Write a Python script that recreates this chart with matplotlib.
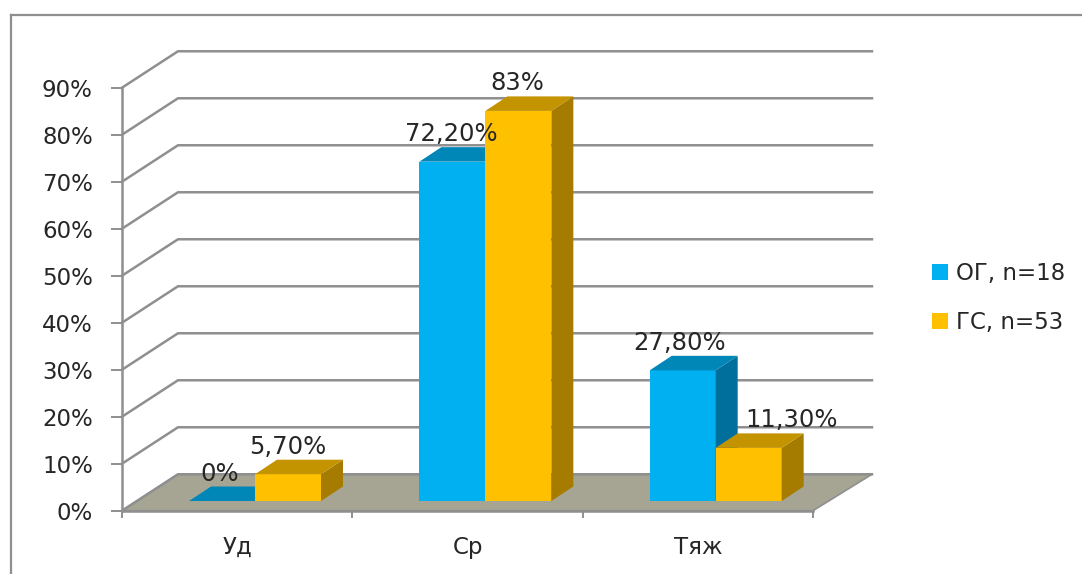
import matplotlib
matplotlib.use("Agg")
import matplotlib.pyplot as plt
from matplotlib.lines import Line2D
from matplotlib.patches import Patch, Polygon

W, H = 1082, 574

categories = ["Уд", "Ср", "Тяж"]
series_names = ["ОГ, n=18", "ГС, n=53"]
og_values = [0.0, 72.2, 27.8]
gs_values = [5.7, 83.0, 11.3]
og_labels = ["0%", "72,20%", "27,80%"]
gs_labels = ["5,70%", "83%", "11,30%"]
y_ticks = [0, 10, 20, 30, 40, 50, 60, 70, 80, 90]

GRID = "#8f8f8f"
TEXT = "#262626"
FLOOR = "#a6a594"
FACES = [
    {"front": "#00b0f0", "top": "#0087b8", "side": "#006f9c"},
    {"front": "#ffc000", "top": "#c49300", "side": "#a67c00"},
]

# Oblique projection, in data units (categories on x, percent on y)
WALL_DX_LEFT = 0.243
WALL_DX_RIGHT = 0.256
WALL_DY = 7.75
BAR_START = 0.291
BAR_W = 0.2865
BAR_BASE = 2.06
DEPTH_DX = 0.0955
DEPTH_DY = 3.09

FONT = 16.5
LABEL_FONT = 17.5

fig = plt.figure(figsize=(W / 100, H / 100), dpi=100, facecolor="white")
# Front plane of the chart: x 122..813 px, 0% at y=510.7 px, 90% at y=87.7 px
ax = fig.add_axes([122 / W, 1 - 510.7 / H, 691 / W, 423 / H])
ax.set_xlim(0, 3)
ax.set_ylim(0, 90)
ax.patch.set_visible(False)

# Outer frame, left and top only
for xs, ys in [((11, 11), (H, 15)), ((11, W), (15, 15))]:
    fig.add_artist(Line2D([x / W for x in xs], [1 - y / H for y in ys],
                          color=GRID, lw=1.6))

# Floor
floor = [(0, 0), (3, 0), (3 + WALL_DX_RIGHT, WALL_DY), (WALL_DX_LEFT, WALL_DY)]
ax.add_patch(Polygon(floor, closed=True, facecolor=FLOOR, edgecolor=GRID, lw=1.2,
                     zorder=1, clip_on=False))

# Gridlines run up the side wall and along the back wall
for t in y_ticks:
    ax.plot([0, WALL_DX_LEFT, 3 + WALL_DX_RIGHT], [t, t + WALL_DY, t + WALL_DY],
            color=GRID, lw=1.8, zorder=1, clip_on=False, solid_joinstyle="miter")


def draw_bars(values, labels, offset, faces, order, label_shift):
    for i, v in enumerate(values):
        x0 = i + BAR_START + offset
        x1 = x0 + BAR_W
        y0 = BAR_BASE
        y1 = BAR_BASE + v
        ax.bar(x0, v, width=BAR_W, bottom=y0, align="edge", color=faces["front"],
               zorder=order, clip_on=False)
        side = [(x1, y0), (x1 + DEPTH_DX, y0 + DEPTH_DY),
                (x1 + DEPTH_DX, y1 + DEPTH_DY), (x1, y1)]
        top = [(x0, y1), (x1, y1), (x1 + DEPTH_DX, y1 + DEPTH_DY),
               (x0 + DEPTH_DX, y1 + DEPTH_DY)]
        ax.add_patch(Polygon(side, closed=True, facecolor=faces["side"], lw=0,
                             zorder=order, clip_on=False))
        ax.add_patch(Polygon(top, closed=True, facecolor=faces["top"], lw=0,
                             zorder=order, clip_on=False))
        ax.annotate(labels[i], (x0 + BAR_W / 2, y1),
                    xytext=(label_shift[i] * 0.72, 27.5 * 0.72),
                    textcoords="offset points", ha="center", va="center",
                    fontsize=LABEL_FONT, color=TEXT, zorder=6, annotation_clip=False)


draw_bars(og_values, og_labels, 0, FACES[0], 3, [-2, -1, -3])
draw_bars(gs_values, gs_labels, BAR_W, FACES[1], 4, [0, -1, 43])

# Axes
for name in ("top", "right"):
    ax.spines[name].set_visible(False)
for name in ("left", "bottom"):
    ax.spines[name].set_color(GRID)
    ax.spines[name].set_linewidth(1.8)
    ax.spines[name].set_zorder(2)

ax.set_yticks(y_ticks)
ax.set_yticklabels([f"{t}%" for t in y_ticks])
ax.tick_params(axis="y", length=8, width=1.4, color=GRID, pad=13,
               labelsize=FONT, labelcolor=TEXT)
ax.set_xticks(range(len(categories) + 1))
ax.set_xticklabels([])
ax.set_xticks([i + 0.5 for i in range(len(categories))], minor=True)
ax.set_xticklabels(categories, minor=True)
ax.tick_params(axis="x", which="major", length=5, width=1.4, color=GRID)
ax.tick_params(axis="x", which="minor", length=0, pad=18,
               labelsize=FONT, labelcolor=TEXT)

handles = [Patch(facecolor=FACES[0]["front"], label=series_names[0]),
           Patch(facecolor=FACES[1]["front"], label=series_names[1])]
fig.legend(handles=handles, loc="center left",
           bbox_to_anchor=(925 / W, 1 - 298 / H), frameon=False,
           fontsize=FONT, labelcolor=TEXT, handlelength=0.7, handleheight=0.7,
           handletextpad=0.35, labelspacing=1.15, borderpad=0.3, borderaxespad=0)

fig.savefig("out.png", dpi=100)
